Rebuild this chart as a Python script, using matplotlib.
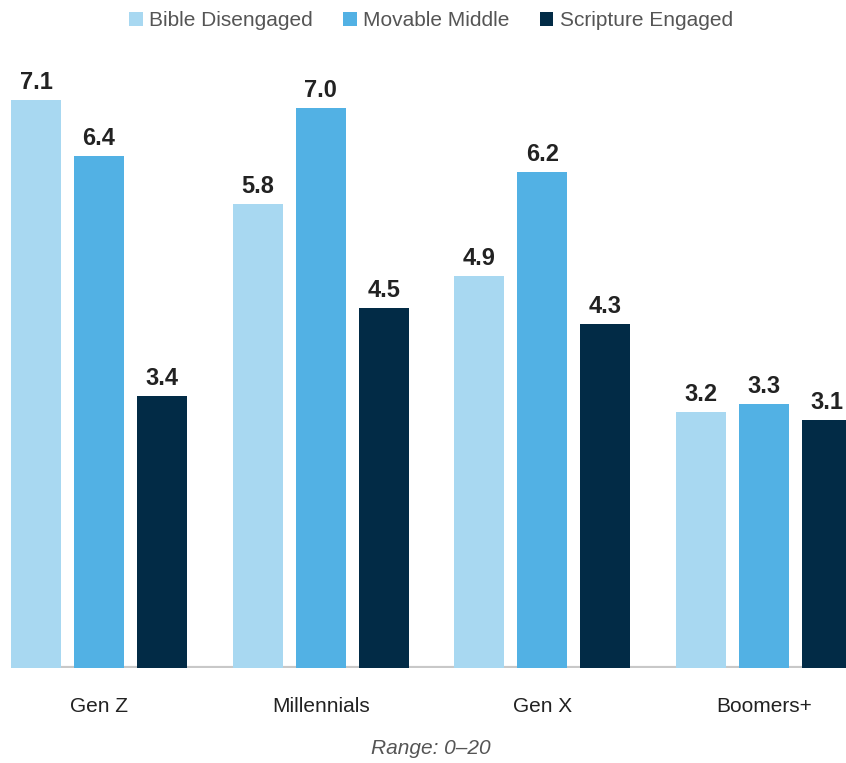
import numpy as np
import matplotlib.pyplot as plt

# values
groups = ["Gen Z", "Millennials", "Gen X", "Boomers+"]
series = ["Bible Disengaged", "Movable Middle", "Scripture Engaged"]
disengaged = [7.1, 5.8, 4.9, 3.2]
movable = [6.4, 7.0, 6.2, 3.3]
engaged = [3.4, 4.5, 4.3, 3.1]
colors = ["#A8D8F1", "#52B1E4", "#022B46"]
note = "Range: 0\u201320"

plt.rcParams['font.family'] = ['Liberation Sans Narrow', 'Liberation Sans', 'DejaVu Sans']

fig = plt.figure(figsize=(8.46, 7.63), dpi=100)
ax = fig.add_axes([11/846, 1 - 668/763, 1 - 11/846, 640/763])

x = np.arange(len(groups))
width = 0.2255
step = 0.284
for k, vals in enumerate([disengaged, movable, engaged]):
    pos = x + (k - 1) * step
    ax.bar(pos, vals, width, color=colors[k], label=series[k])
    for p, v in zip(pos, vals):
        ax.text(p, v + 0.07, f"{v:.1f}", ha='center', va='bottom',
                fontsize=17, fontweight='bold', color='#222222')

ax.set_xlim(-0.397, 3.369)
ax.set_ylim(0, 8)
for s in ax.spines.values():
    s.set_visible(False)
ax.axhline(0, color='#c8c8c8', lw=3, zorder=0)
ax.set_yticks([])
ax.set_xticks(x)
ax.set_xticklabels(groups, fontsize=15, color='#222222')
ax.tick_params(axis='x', length=0, pad=21)

fig.text(431/846, 1 - 748/763, note, ha='center', va='center', fontsize=15,
         style='italic', color='#555555')

fig.legend(loc='center', bbox_to_anchor=(431/846, 1 - 21/763), ncol=3,
           frameon=False, fontsize=15, handlelength=0.67, handleheight=0.67,
           handletextpad=0.29, columnspacing=1.44, labelcolor='#555555')

fig.savefig("out.png", dpi=100)
